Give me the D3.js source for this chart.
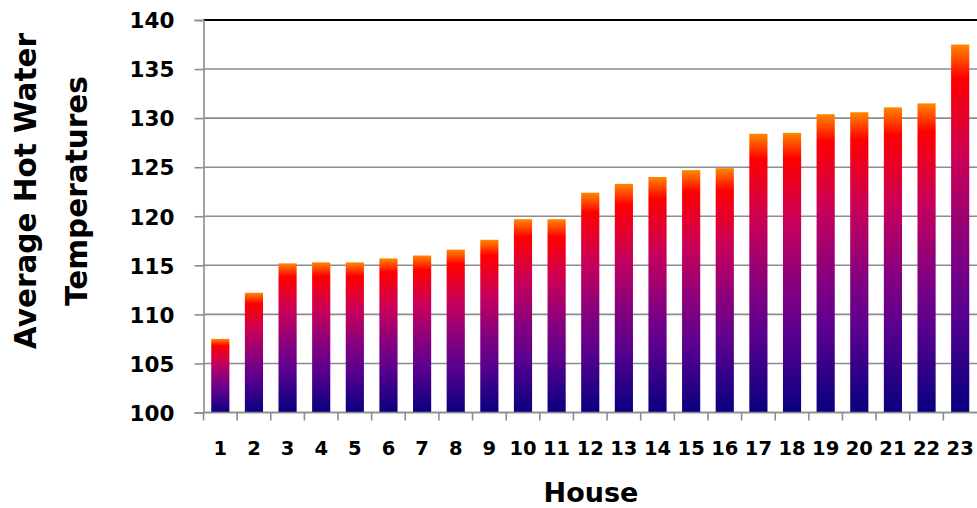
<!DOCTYPE html>
<html>
<head>
<meta charset="utf-8">
<script src="https://cdn.jsdelivr.net/npm/d3@7"></script>
<style>
  html, body { margin: 0; padding: 0; background: #fff; }
  svg { display: block; }
  text { font-family: "DejaVu Sans", "Liberation Sans", Arial, sans-serif; font-weight: 700; fill: #000; }
</style>
</head>
<body>
<svg id="chart" width="977" height="508"></svg>
<script>
// House numbers along the x axis
const houses = ["1","2","3","4","5","6","7","8","9","10","11","12","13","14","15","16","17","18","19","20","21","22","23"];
// Average hot water temperature per house
const temps = [107.5, 112.2, 115.2, 115.3, 115.3, 115.7, 116.0, 116.6, 117.6, 119.7, 119.7, 122.4,
               123.3, 124.0, 124.7, 124.9, 128.4, 128.5, 130.4, 130.6, 131.1, 131.5, 137.5];
// Value axis ticks
const yTicks = [100, 105, 110, 115, 120, 125, 130, 135, 140];
const yTitleLines = ["Average Hot Water", "Temperatures"];
const xTitle = "House";

const svg = d3.select("#chart");
const plot = { left: 203.5, right: 977, top: 20, bottom: 412.5 };

const x = d3.scaleBand().domain(houses).range([plot.left, plot.right]).paddingInner(0.46).paddingOuter(0.23);
const y = d3.scaleLinear().domain([100, 140]).range([plot.bottom, plot.top]);

// Per-bar fire gradient: orange top fading through red and purple to navy
const defs = svg.append("defs");
const grad = defs.append("linearGradient").attr("id", "fire")
  .attr("x1", 0).attr("y1", 0).attr("x2", 0).attr("y2", 1);
[[0, "#ff8800"], [0.09, "#ff0000"], [0.32, "#c8005a"], [0.55, "#85007f"], [0.72, "#5a008f"], [1, "#08007f"]]
  .forEach(([o, c]) => grad.append("stop").attr("offset", o).attr("stop-color", c));

// Horizontal gridlines
svg.append("g").selectAll("line").data(yTicks.filter(t => t !== 140)).join("line")
  .attr("x1", plot.left).attr("x2", plot.right)
  .attr("y1", d => y(d)).attr("y2", d => y(d))
  .attr("stroke", "#8c8c8c").attr("stroke-width", 1.6);

// Bars
svg.append("g").selectAll("rect").data(temps).join("rect")
  .attr("x", (d, i) => x(houses[i]))
  .attr("width", x.bandwidth())
  .attr("y", d => y(d))
  .attr("height", d => y(100) - y(d))
  .attr("fill", "url(#fire)");

// Top border of the plot area
svg.append("line").attr("x1", plot.left).attr("x2", plot.right)
  .attr("y1", y(140)).attr("y2", y(140)).attr("stroke", "#000").attr("stroke-width", 2);

// Y axis
const yAxis = svg.append("g").attr("transform", `translate(${plot.left},0)`)
  .call(d3.axisLeft(y).tickValues(yTicks).tickSize(9).tickPadding(20).tickFormat(d3.format("d")));
yAxis.select(".domain").attr("stroke", "#8c8c8c").attr("stroke-width", 1.6);
yAxis.selectAll(".tick line").attr("stroke", "#8c8c8c").attr("stroke-width", 1.6);
yAxis.selectAll(".tick text").style("font-size", "21.5px").attr("font-family", null).attr("dy", "0.36em");

// X axis with ticks at category boundaries
const xAxisG = svg.append("g").attr("transform", `translate(0,${plot.bottom})`);
xAxisG.append("line").attr("x1", plot.left).attr("x2", plot.right)
  .attr("stroke", "#8c8c8c").attr("stroke-width", 1.6);
const step = x.step();
const bounds = d3.range(houses.length).map(i => plot.left + i * step);
xAxisG.selectAll("line.tk").data(bounds).join("line").attr("class", "tk")
  .attr("x1", d => d).attr("x2", d => d).attr("y1", 0).attr("y2", 8)
  .attr("stroke", "#8c8c8c").attr("stroke-width", 1.6);
xAxisG.selectAll("text").data(houses).join("text")
  .attr("x", d => x(d) + x.bandwidth() / 2).attr("y", 42)
  .attr("text-anchor", "middle").style("font-size", "19.5px").text(d => d);

// Axis titles
svg.append("text").attr("x", 591).attr("y", 502).attr("text-anchor", "middle")
  .style("font-size", "27px").text(xTitle);
const yTitle = svg.append("text").attr("transform", "translate(0,191) rotate(-90)")
  .attr("text-anchor", "middle").style("font-size", "29.5px");
yTitle.selectAll("tspan").data(yTitleLines).join("tspan")
  .attr("x", 0).attr("y", (d, i) => 36 + i * 51).text(d => d);
</script>
</body>
</html>
